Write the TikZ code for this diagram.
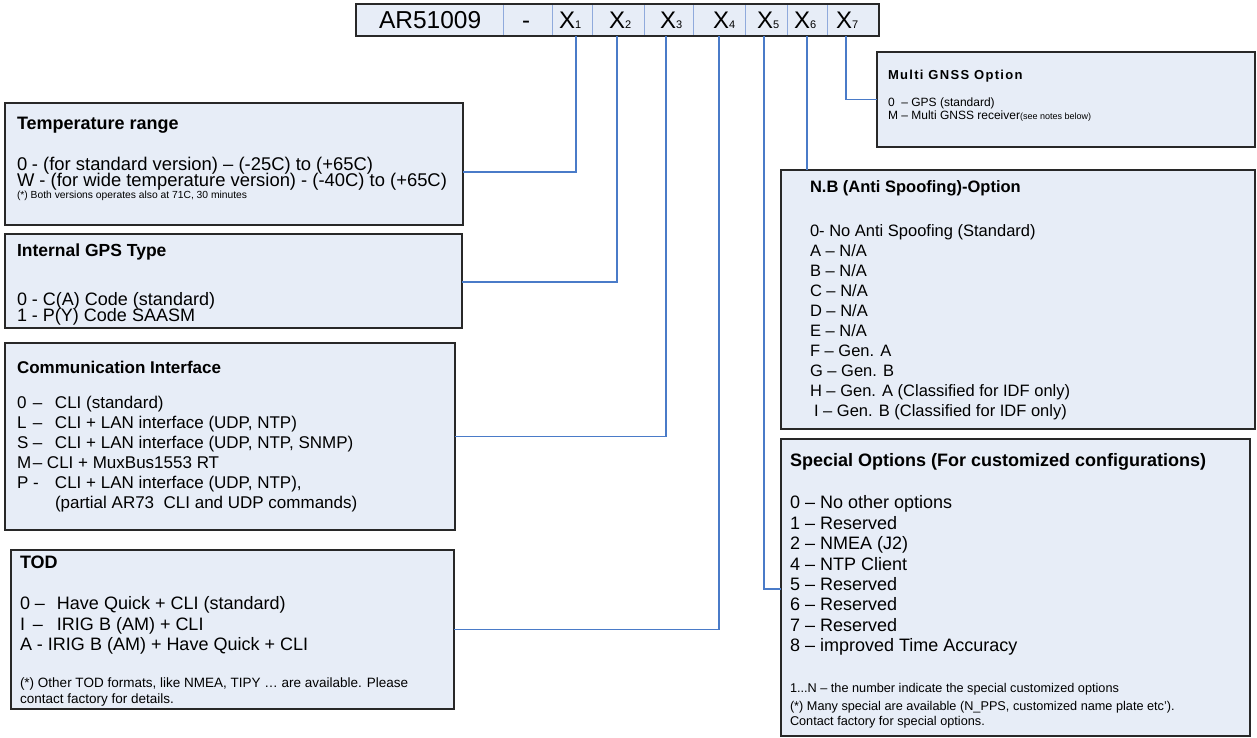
\documentclass[tikz,border=0pt]{standalone}
\usepackage{fontspec}
\setmainfont{Liberation Sans}
\definecolor{boxfill}{RGB}{231,237,247}
\definecolor{boxline}{RGB}{40,40,40}
\definecolor{connblue}{RGB}{74,123,200}
\definecolor{divline}{RGB}{143,170,220}
\newcommand\fs[1]{\fontsize{#1}{#1}\selectfont}
\tikzset{
  optbox/.style={draw=boxline, line width=1.2pt, fill=boxfill, inner sep=0pt, outer sep=0pt, anchor=north west},
  cell/.style={draw=divline, line width=0.8pt, fill=boxfill, inner sep=0pt, outer sep=0pt, anchor=north west, minimum height=32pt},
  txt/.style={anchor=base west, inner sep=0pt, outer sep=0pt},
  conn/.style={draw=connblue, line width=1.1pt},
}
\begin{document}
\begin{tikzpicture}[x=1pt,y=-1pt]
\useasboundingbox (0,0) rectangle (1257,738);

% top bar
\node[cell, minimum width=147pt] (c0) at (356,4) {};
\node[cell, minimum width=49pt] (cd) at (503,4) {};
\node[cell, minimum width=40pt] (c1) at (552,4) {};
\node[cell, minimum width=52pt] (c2) at (592,4) {};
\node[cell, minimum width=49pt] (c3) at (644,4) {};
\node[cell, minimum width=52pt] (c4) at (693,4) {};
\node[cell, minimum width=42pt] (c5) at (745,4) {};
\node[cell, minimum width=40pt] (c6) at (787,4) {};
\node[cell, minimum width=52pt] (c7) at (827,4) {};
\draw[boxline, line width=1.2pt] (c0.north west) rectangle (c7.south east);
\node[txt, font=\fs{24.5}] (l0) at (379,29) {AR51009};
\node[txt, font=\fs{24}] (ld) at (522,29) {-};
\node[txt, font=\fs{24}] (l1) at (559,29) {X{\fs{11}1}};
\node[txt, font=\fs{24}] (l2) at (609,29) {X{\fs{11}2}};
\node[txt, font=\fs{24}] (l3) at (660,29) {X{\fs{11}3}};
\node[txt, font=\fs{24}] (l4) at (713,29) {X{\fs{11}4}};
\node[txt, font=\fs{24}] (l5) at (757,29) {X{\fs{11}5}};
\node[txt, font=\fs{24}] (l6) at (794,29) {X{\fs{11}6}};
\node[txt, font=\fs{24}] (l7) at (836,29) {X{\fs{11}7}};

% boxes
\node[optbox, minimum width=458pt, minimum height=122pt] (temp) at (5,103) {};
\node[optbox, minimum width=457pt, minimum height=94pt] (gps) at (5,234) {};
\node[optbox, minimum width=450pt, minimum height=187pt] (comm) at (5,343) {};
\node[optbox, minimum width=443pt, minimum height=159pt] (tod) at (11,550) {};
\node[optbox, minimum width=378pt, minimum height=95pt] (gnss) at (877,52) {};
\node[optbox, minimum width=474pt, minimum height=259pt] (nb) at (781,170) {};
\node[optbox, minimum width=469pt, minimum height=297pt] (spec) at (781,439) {};

% connectors
\draw[conn] ([xshift=4pt]c1.south) |- ([yshift=-8pt]temp.east);
\draw[conn] ([xshift=-1pt]c2.south) |- ([yshift=-1pt]gps.east);
\draw[conn] ([xshift=-2.5pt]c3.south) |- (comm.east);
\draw[conn] (c4.south) |- (tod.east);
\draw[conn] ([xshift=-2pt]c5.south) |- ([yshift=-1.5pt]spec.west);
\draw[conn] (c6.south) -- (c6.south |- nb.north);
\draw[conn] ([xshift=-7pt]c7.south) |- (gnss.west);

% temperature
\node[txt, font=\bfseries\fs{18}] (t0) at (17,129.5) {Temperature range};
\node[txt, font=\fs{18.4}] (t1) at (17,170.5) {\makebox[15pt][l]{0}- (for standard version) – (-25C) to (+65C)};
\node[txt, font=\fs{18.4}] (t2) at (17,186.5) {W - (for wide temperature version) - (-40C) to (+65C)};
\node[txt, font=\fs{10.3}] (t3) at (17,198.5) {(*) Both versions operates also at 71C, 30 minutes};

% gps
\node[txt, font=\bfseries\fs{17.5}] (g0) at (17,256) {Internal GPS Type};
\node[txt, font=\fs{18}] (g1) at (17,305) {\makebox[15pt][l]{0}- C(A) Code (standard)};
\node[txt, font=\fs{18}] (g2) at (17,321) {\makebox[15pt][l]{1}- P(Y) Code SAASM};

% communication
\node[txt, font=\bfseries\fs{17}] (m0) at (17,373) {Communication Interface};
\node[txt, font=\fs{17}] (m1) at (17,408) {\makebox[16pt][l]{0}\makebox[22pt][l]{–}CLI (standard)};
\node[txt, font=\fs{17}] (m2) at (17,428) {\makebox[16pt][l]{L}\makebox[22pt][l]{–}CLI + LAN interface (UDP, NTP)};
\node[txt, font=\fs{17}] (m3) at (17,448) {\makebox[16pt][l]{S}\makebox[22pt][l]{–}CLI + LAN interface (UDP, NTP, SNMP)};
\node[txt, font=\fs{17}] (m4) at (17,468) {\makebox[16pt][l]{M}\makebox[14pt][l]{–}CLI + MuxBus1553 RT};
\node[txt, font=\fs{17}] (m5) at (17,488) {\makebox[38pt][l]{P -}CLI + LAN interface (UDP, NTP),};
\node[txt, font=\fs{17}] (m6) at (55,508) {(partial AR73\ \ CLI and UDP commands)};

% tod
\node[txt, font=\bfseries\fs{18}] (d0) at (20,568) {TOD};
\node[txt, font=\fs{18}] (d1) at (20,609) {\makebox[37pt][l]{0 –}Have Quick + CLI (standard)};
\node[txt, font=\fs{18}] (d2) at (20,630) {\makebox[13pt][l]{I}\makebox[24pt][l]{–}IRIG B (AM) + CLI};
\node[txt, font=\fs{18}] (d3) at (20,650) {A - IRIG B (AM) + Have Quick + CLI};
\node[txt, font=\fs{13.5}] (d4) at (20,687.5) {(*) Other TOD formats, like NMEA, TIPY … are available. Please};
\node[txt, font=\fs{13.5}] (d5) at (20,703.5) {contact factory for details.};

% gnss
\node[txt, font=\bfseries\fs{13}\addfontfeature{LetterSpace=10}] (s0) at (888,79.5) {Multi GNSS Option};
\node[txt, font=\fs{12}] (s1) at (888,107) {0\ \ – GPS (standard)};
\node[txt, font=\fs{12}] (s2) at (888,120) {M – Multi GNSS receiver{\fs{9}(see notes below)}};

% nb
\node[txt, font=\bfseries\fs{16.5}] (n0) at (810,193) {N.B (Anti Spoofing)-Option};
\node[txt, font=\fs{16.5}] (n1) at (810,236) {0- No Anti Spoofing (Standard)};
\node[txt, font=\fs{16.5}] (n2) at (810,256) {A – N/A};
\node[txt, font=\fs{16.5}] (n3) at (810,276) {B – N/A};
\node[txt, font=\fs{16.5}] (n4) at (810,296) {C – N/A};
\node[txt, font=\fs{16.5}] (n5) at (810,316) {D – N/A};
\node[txt, font=\fs{16.5}] (n6) at (810,336) {E – N/A};
\node[txt, font=\fs{16.5}] (n7) at (810,356) {F – Gen. A};
\node[txt, font=\fs{16.5}] (n8) at (810,376) {G – Gen. B};
\node[txt, font=\fs{16.5}] (n9) at (810,396) {H – Gen. A (Classified for IDF only)};
\node[txt, font=\fs{16.5}] (n10) at (814,416) {I – Gen. B (Classified for IDF only)};

% special
\node[txt, font=\bfseries\fs{18}] (p0) at (790,466) {Special Options (For customized configurations)};
\node[txt, font=\fs{18}] (p1) at (790,508.5) {0 – No other options};
\node[txt, font=\fs{18}] (p2) at (790,529) {1 – Reserved};
\node[txt, font=\fs{18}] (p3) at (790,549.5) {2 – NMEA (J2)};
\node[txt, font=\fs{18}] (p4) at (790,570) {4 – NTP Client};
\node[txt, font=\fs{18}] (p5) at (790,590) {5 – Reserved};
\node[txt, font=\fs{18}] (p6) at (790,610.5) {6 – Reserved};
\node[txt, font=\fs{18}] (p7) at (790,631) {7 – Reserved};
\node[txt, font=\fs{18}] (p8) at (790,651.5) {8 – improved Time Accuracy};
\node[txt, font=\fs{12.7}] (p9) at (790,692.5) {1...N – the number indicate the special customized options};
\node[txt, font=\fs{12.7}] (p10) at (790,710.5) {(*) Many special are available (N\_PPS, customized name plate etc’).};
\node[txt, font=\fs{12.7}] (p11) at (790,725.5) {Contact factory for special options.};
\end{tikzpicture}
\end{document}
